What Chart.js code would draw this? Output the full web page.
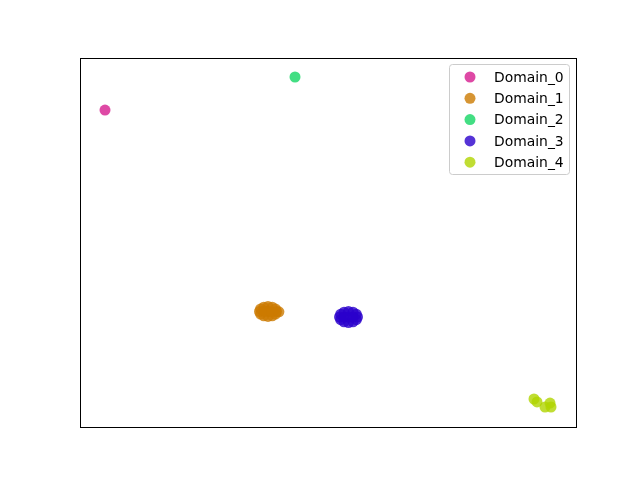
<!DOCTYPE html>
<html>
<head>
<meta charset="utf-8">
<script src="https://cdn.jsdelivr.net/npm/chart.js@4/dist/chart.umd.min.js"></script>
<style>
  html, body { margin: 0; padding: 0; background: #fff; }
</style>
</head>
<body>
<canvas id="chart" width="640" height="480"></canvas>
<script>
const labels = ["Domain_0", "Domain_1", "Domain_2", "Domain_3", "Domain_4"];
const colors = [
    "rgba(214, 28, 142, 0.8)",
    "rgba(204, 122, 0, 0.8)",
    "rgba(20, 214, 100, 0.8)",
    "rgba(43, 0, 204, 0.8)",
    "rgba(176, 212, 0, 0.8)"
];

const domain0X = [5.04];
const domain0Y = [85.9];

const domain1X = [39.62, 39.40, 38.76, 37.90, 37.05, 36.41, 36.19, 36.41, 37.05, 37.90, 38.76, 39.40, 37.90, 37.10, 38.71, 40.10];
const domain1Y = [31.30, 31.98, 32.47, 32.66, 32.47, 31.98, 31.30, 30.62, 30.14, 29.95, 30.14, 30.62, 31.30, 31.44, 31.17, 31.20];

const domain2X = [43.35];
const domain2Y = [94.85];

const domain3X = [55.95, 55.71, 55.04, 54.13, 53.23, 52.56, 52.32, 52.56, 53.23, 54.13, 55.04, 55.71, 54.13, 53.23, 55.04];
const domain3Y = [29.81, 30.56, 31.11, 31.30, 31.11, 30.56, 29.81, 29.07, 28.51, 28.32, 28.51, 29.07, 29.81, 29.81, 29.81];

const domain4X = [91.53, 92.14, 93.75, 94.76, 94.96];
const domain4Y = [7.59, 6.78, 5.42, 6.50, 5.42];

const xs = [domain0X, domain1X, domain2X, domain3X, domain4X];
const ys = [domain0Y, domain1Y, domain2Y, domain3Y, domain4Y];

function toPoints(xArr, yArr) {
    return xArr.map((x, i) => ({ x: x, y: yArr[i] }));
}

const datasets = labels.map((label, i) => ({
    label: label,
    data: toPoints(xs[i], ys[i]),
    backgroundColor: colors[i],
    borderWidth: 0,
    pointRadius: 5.5
}));

// frame round the plot area and the legend inside it, top right
const framePlugin = {
    id: "frame",
    afterDraw: (chart) => {
        const ctx = chart.ctx;
        const a = chart.chartArea;
        ctx.save();
        ctx.strokeStyle = "#000";
        ctx.lineWidth = 1;
        ctx.strokeRect(Math.round(a.left) + 0.5, Math.round(a.top) + 0.5,
            Math.round(a.right - a.left), Math.round(a.bottom - a.top));

        const bx = 449.5, by = 64.5, bw = 120, bh = 110, r = 3;
        ctx.beginPath();
        ctx.moveTo(bx + r, by);
        ctx.arcTo(bx + bw, by, bx + bw, by + bh, r);
        ctx.arcTo(bx + bw, by + bh, bx, by + bh, r);
        ctx.arcTo(bx, by + bh, bx, by, r);
        ctx.arcTo(bx, by, bx + bw, by, r);
        ctx.closePath();
        ctx.fillStyle = "rgba(255,255,255,0.8)";
        ctx.fill();
        ctx.strokeStyle = "#cccccc";
        ctx.stroke();

        ctx.font = "13.9px 'DejaVu Sans'";
        ctx.textBaseline = "middle";
        chart.data.datasets.forEach((ds, i) => {
            const y = 77 + i * 21.3;
            ctx.beginPath();
            ctx.arc(470, y, 5.5, 0, Math.PI * 2);
            ctx.fillStyle = ds.backgroundColor;
            ctx.fill();
            ctx.fillStyle = "#000";
            ctx.fillText(ds.label, 494, y + 1);
        });
        ctx.restore();
    }
};

new Chart(document.getElementById("chart"), {
    type: "scatter",
    data: { datasets: datasets },
    options: {
        responsive: false,
        animation: false,
        events: [],
        layout: { padding: { left: 80, right: 64, top: 58, bottom: 53 } },
        plugins: {
            legend: { display: false },
            tooltip: { enabled: false }
        },
        scales: {
            x: { display: false, min: 0, max: 100 },
            y: { display: false, min: 0, max: 100 }
        }
    },
    plugins: [framePlugin]
});
</script>
</body>
</html>
